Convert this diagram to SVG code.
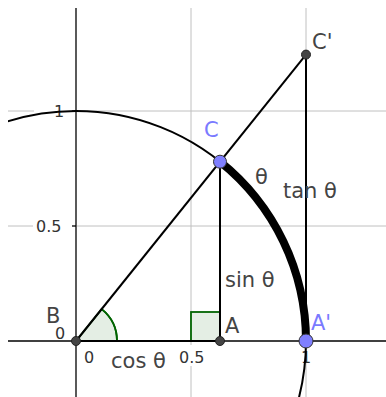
<svg xmlns="http://www.w3.org/2000/svg" width="386" height="397" viewBox="0 0 386 397">
<style>
.grid{stroke:#c0c0c0;stroke-width:1;fill:none}
.axis{stroke:#000;stroke-width:1.3;fill:none}
.seg{stroke:#000;stroke-width:2;fill:none}
.num{font-family:"DejaVu Sans",sans-serif;font-size:16px;fill:#333}
.lbl{font-family:"DejaVu Sans",sans-serif;font-size:21px;fill:#444}
.blue{fill:#7a7aff}
.pt{fill:#444;stroke:#222;stroke-width:1}
.bpt{fill:#7f7fff;stroke:#333;stroke-width:1}
.ang{fill:#e4eee4;stroke:#006400;stroke-width:1.8}
</style>
<defs>
<clipPath id="view"><rect x="8" y="8" width="378" height="389"/></clipPath>
</defs>
<rect width="386" height="397" fill="#fff"/>
<g id="grid">
<line class="grid" x1="191" y1="8" x2="191" y2="345"/>
<line class="grid" x1="191" y1="366" x2="191" y2="397"/>
<line class="grid" x1="306" y1="8" x2="306" y2="397"/>
<line class="grid" x1="8" y1="226" x2="33" y2="226"/>
<line class="grid" x1="77" y1="226" x2="386" y2="226"/>
<line class="grid" x1="8" y1="111" x2="34" y2="111"/>
<line class="grid" x1="77" y1="111" x2="386" y2="111"/>
</g>
<g id="axes">
<line class="axis" x1="8" y1="341" x2="386" y2="341"/>
<line class="axis" x1="76" y1="8" x2="76" y2="397"/>
<line class="axis" x1="72" y1="226" x2="76" y2="226"/>
<line class="axis" x1="72" y1="111" x2="76" y2="111"/>
<text class="num" x="36" y="232">0.5</text>
<text class="num" x="54" y="117">1</text>
<text class="num" x="55" y="339">0</text>
<text class="num" x="84" y="363">0</text>
<text class="num" x="179" y="363">0.5</text>
<text class="num" x="301" y="363">1</text>
</g>
<g id="angles">
<path class="ang" d="M76,341 L117,341 A41,41 0 0,0 101.7,309.1 Z" stroke="none"/>
<path d="M117,341 A41,41 0 0,0 101.7,309.1" fill="none" stroke="#006400" stroke-width="1.8"/>
<rect class="ang" x="191" y="312" width="29" height="29"/>
</g>
<g id="connectors">
<circle cx="76" cy="341" r="230" fill="none" stroke="#000" stroke-width="2" clip-path="url(#view)"/>
<path d="M220,161.7 A230,230 0 0,1 306,341" fill="none" stroke="#000" stroke-width="8"/>
<line class="seg" x1="76" y1="341" x2="220" y2="341"/>
<line class="seg" x1="76" y1="341" x2="306" y2="54.6"/>
<line class="seg" x1="220" y1="161.7" x2="220" y2="341"/>
<line class="seg" x1="306" y1="54.6" x2="306" y2="341"/>
<text class="lbl" x="111" y="368">cos θ</text>
<text class="lbl" x="225" y="287">sin θ</text>
<text class="lbl" x="283" y="198">tan θ</text>
<text class="lbl" x="255" y="184">θ</text>
</g>
<g id="B">
<circle class="pt" cx="76" cy="341" r="4.5"/>
<text class="lbl" x="46" y="323">B</text>
</g>
<g id="A">
<circle class="pt" cx="220" cy="341" r="4.5"/>
<text class="lbl" x="225" y="333">A</text>
</g>
<g id="Cprime">
<circle class="pt" cx="306" cy="54.6" r="4.5"/>
<text class="lbl" x="312" y="49">C'</text>
</g>
<g id="C">
<circle class="bpt" cx="220" cy="161.7" r="6.5"/>
<text class="lbl blue" x="204" y="137">C</text>
</g>
<g id="Aprime">
<circle class="bpt" cx="306" cy="341" r="7"/>
<text class="lbl blue" x="311" y="330">A'</text>
</g>
</svg>
